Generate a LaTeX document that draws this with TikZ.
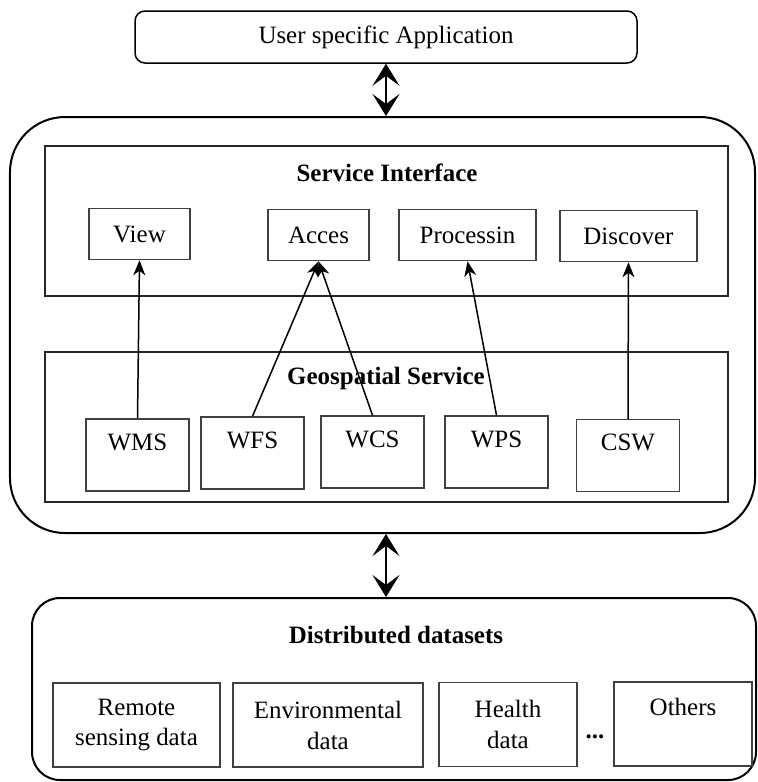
\documentclass[tikz,border=0pt]{standalone}
\usepackage{fontspec}
\setmainfont{Liberation Serif}
\usetikzlibrary{positioning,arrows.meta}

\begin{document}
\begin{tikzpicture}[
  font=\fontsize{14.2}{17.6}\selectfont,
  appbox/.style={draw, line width=0.3mm, rounded corners=2mm, minimum width=100.4mm,
                 minimum height=10.4mm, inner sep=0pt},
  outer/.style={draw, line width=0.4mm, inner sep=0pt},
  layer/.style={draw, line width=0.3mm, black!85, minimum width=136.6mm,
                minimum height=30mm, inner sep=0pt},
  iface/.style={draw, line width=0.3mm, black!75, text=black, minimum height=10.2mm,
                inner sep=0pt},
  svc/.style={draw, line width=0.3mm, black!75, text=black, minimum width=20.6mm,
              inner xsep=0pt, inner ysep=0pt, text height=6.2mm, text depth=8.2mm},
  ds/.style={draw, line width=0.3mm, black!75, text=black, minimum height=16.8mm,
             inner sep=0pt, align=center},
  ttl/.style={font=\fontsize{14.2}{17.6}\selectfont\bfseries},
  arr/.style={-{Stealth[length=3mm, width=2.4mm, inset=0.9mm]}, line width=0.3mm},
  dbl/.style={{Stealth[length=4.4mm, width=5.4mm, inset=2mm]}-{Stealth[length=4.4mm, width=5.4mm, inset=2mm]},
              line width=0.3mm},
]
\useasboundingbox (0,0) rectangle (15.14,-15.64);

% application on top
\node[appbox] (app) at (7.72,-0.74) {User specific Application};

% middle block with the two layers
\node[outer, rounded corners=11mm, minimum width=149mm, minimum height=83.2mm] (core) at (7.65,-6.5) {};
\node[layer] (si) at (7.73,-4.42) {};
\node[ttl] (sititle) at (7.74,-3.46) {Service Interface};
\node[iface, minimum width=20.2mm] (view) at (2.79,-4.68) {View};
\node[iface, minimum width=20.2mm] (acc)  at (6.37,-4.70) {Acces};
\node[iface, minimum width=27.4mm] (proc) at (9.35,-4.70) {Processin};
\node[iface, minimum width=27.4mm] (disc) at (12.57,-4.72) {Discover};

\node[layer] (gs) at (7.73,-8.54) {};
\node[ttl] (gstitle) at (7.72,-7.56) {Geospatial Service};
\node[svc] (wms) at (2.75,-9.10) {WMS};
\node[svc] (wfs) at (5.05,-9.06) {WFS};
\node[svc] (wcs) at (7.45,-9.04) {WCS};
\node[svc] (wps) at (9.93,-9.04) {WPS};
\node[svc] (csw) at (12.56,-9.11) {CSW};

% services up to the interface
\foreach \s/\t in {wms/view, wfs/acc, wcs/acc, wps/proc, csw/disc}{
  \draw[arr] (\s.north) -- (\t.south);
}

% datasets at the bottom
\node[outer, rounded corners=5.6mm, minimum width=144.8mm, minimum height=36.4mm] (data) at (7.88,-13.78) {};
\node[ttl] (dtitle) at (7.92,-12.70) {Distributed datasets};
\node[ds, minimum width=33.4mm] (rs)  at (2.73,-14.50) {Remote\\sensing data};
\node[ds, minimum width=38mm]   (env) at (6.56,-14.50) {Environmental\\data};
\node[ds, minimum width=27.6mm] (hl)  at (10.16,-14.49) {Health\\data};
\node[font=\fontsize{14.2}{17.6}\selectfont\bfseries, inner sep=0pt] (dots) at (11.9,-14.74) {...};
\node[ds, minimum width=27.6mm] (oth) at (13.66,-14.48) {Others\\[-3.9pt]\strut};

% links between the blocks
\draw[dbl] (app.south) -- (app.south |- core.north);
\draw[dbl] (core.south -| app.south) -- (data.north -| app.south);
\end{tikzpicture}
\end{document}
